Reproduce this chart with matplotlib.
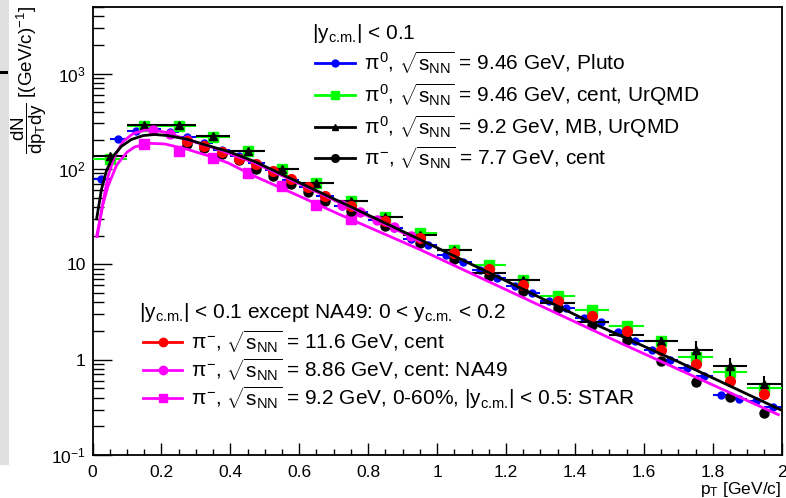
import matplotlib
matplotlib.use("Agg")
import matplotlib.pyplot as plt
from matplotlib.patches import Rectangle
from matplotlib.ticker import FixedLocator, FixedFormatter, MultipleLocator

plt.rcParams['font.family'] = ['Liberation Sans', 'DejaVu Sans']
plt.rcParams['mathtext.fontset'] = 'custom'
plt.rcParams['mathtext.rm'] = 'Liberation Sans'
plt.rcParams['mathtext.it'] = 'Liberation Sans'
plt.rcParams['mathtext.bf'] = 'Liberation Sans:bold'

# --- data ---
# pi0 9.46 GeV Pluto (blue)
pluto_x = [0.025, 0.075, 0.125, 0.175, 0.225, 0.275, 0.325, 0.375, 0.425, 0.475,
           0.525, 0.575, 0.625, 0.675, 0.725, 0.775, 0.825, 0.875, 0.925, 0.975,
           1.025, 1.075, 1.125, 1.175, 1.225, 1.275, 1.325, 1.375, 1.425, 1.475,
           1.525, 1.575, 1.625, 1.675, 1.725, 1.775, 1.825, 1.875, 1.925, 1.975]
pluto_y = [78, 204, 252, 262, 242, 216, 186, 160, 138, 116,
           97, 76, 64, 52, 41, 35, 29.5, 24, 18.5, 16,
           12.6, 10.7, 8.8, 7.2, 5.9, 5.0, 4.1, 3.5, 2.75, 2.5,
           1.95, 1.56, 1.27, 1.0, 0.82, 0.68, 0.43, 0.39, 0.37, 0.32]

# UrQMD bins (green: pi0 9.46 cent, black triangles: pi0 9.2 MB)
urqmd_x = [0.05, 0.15, 0.25, 0.35, 0.45, 0.55, 0.65, 0.75, 0.85, 0.95,
           1.05, 1.15, 1.25, 1.35, 1.45, 1.55, 1.65, 1.75, 1.85, 1.95]
urqmd_cent_y = [128, 285, 280, 218, 153, 100, 71.5, 46.6, 31.4, 21.3,
                14.3, 9.9, 6.9, 4.7, 3.35, 2.27, 1.58, 1.07, 0.74, 0.51]
urqmd_mb_y = [136, 292, 287, 224, 153, 100, 71.5, 46.6, 31.4, 20.5,
              14.3, 8.1, 6.8, 3.93, 2.49, 1.8, 1.56, 1.27, 0.85, 0.55]
urqmd_mb_err = [2, 4, 4, 3, 2, 1.5, 1, 0.8, 0.6, 0.5,
                0.4, 0.3, 0.3, 0.2, 0.15, 0.12, 0.15, 0.3, 0.2, 0.13]

# pi- data points (red: 11.6 GeV cent, black: 7.7 GeV cent)
pim_x = [0.275, 0.325, 0.375, 0.425, 0.475, 0.525, 0.575, 0.625, 0.675, 0.75,
         0.85, 0.95, 1.05, 1.15, 1.25, 1.35, 1.45, 1.55, 1.65, 1.75, 1.85, 1.95]
e866_y = [195, 173, 150, 128, 112, 95, 78, 65, 52, 40.6,
          28.5, 18.9, 13.2, 8.95, 6.1, 4.16, 2.85, 1.98, 1.27, 0.89, 0.60, 0.44]
star77_y = [185, 165, 142, 125, 100, 84, 69, 58, 46, 36,
            25, 16.8, 11.4, 7.6, 5.2, 3.49, 2.33, 1.62, 0.96, 0.58, 0.41, 0.275]

# 7.7 GeV curve (black line)
curve77_x = [0.012, 0.026, 0.04, 0.06, 0.084, 0.113, 0.147, 0.18, 0.219, 0.277,
             0.325, 0.393, 0.47, 0.6, 0.75, 0.95, 1.2, 1.44, 1.7, 1.995]
curve77_y = [30, 61, 95, 136, 173, 204, 224, 230, 224, 204,
             180, 153, 120, 72, 40, 18.2, 6.7, 2.52, 0.95, 0.30]

# NA49 8.86 GeV (magenta circles + upper magenta line)
na49_x = [0.175, 0.225, 0.275, 0.325, 0.375, 0.425, 0.475, 0.525, 0.575,
          0.625, 0.675, 0.725, 0.775, 0.825, 0.875, 0.925]
na49_y = [258, 232, 200, 175, 150, 128, 108, 90, 74,
          61, 50, 42, 35, 29, 24.5, 19.7]
na49_curve_x = [0.014, 0.03, 0.045, 0.064, 0.089, 0.118, 0.151, 0.18, 0.219,
                0.267, 0.35, 0.47, 0.6, 0.75, 0.95]
na49_curve_y = [19.7, 44, 84, 136, 195, 235, 255, 255, 239,
                207, 168, 116, 70, 39, 17.6]

# STAR 9.2 GeV 0-60% (magenta squares + lower magenta line)
star92_x = [0.15, 0.25, 0.35, 0.45, 0.55, 0.65, 0.75]
star92_y = [185, 155, 130, 90, 65.5, 42, 30]
star92_curve_x = [0.012, 0.03, 0.045, 0.07, 0.1, 0.122, 0.161, 0.21, 0.277, 0.335,
                  0.393, 0.47, 0.6, 0.718, 0.95, 1.531, 1.99]
star92_curve_y = [19.7, 42, 66, 110, 150, 170, 186, 183, 160, 138,
                  116, 84, 52, 33.2, 14.3, 1.5, 0.265]

BLUE = '#0000ff'
GREEN = '#00ff00'
RED = '#ff0000'
MAG = '#ff00ff'

fig = plt.figure(figsize=(7.86, 4.98), dpi=100)
# screenshot edge
fig.patches.append(Rectangle((0, 1 - 465 / 498), 9 / 786, 465 / 498, transform=fig.transFigure,
                             facecolor='#e0e0e0', edgecolor='none', zorder=0))
fig.patches.append(Rectangle((0, 1 - 74 / 498), 8 / 786, 3 / 498, transform=fig.transFigure,
                             facecolor='black', edgecolor='none', zorder=1))

ax = fig.add_axes([92.5 / 786, 43 / 498, 689.2 / 786, 448 / 498])
ax.set_yscale('log')
ax.set_xlim(0, 2)
ax.set_ylim(0.1, 5000)

# points
ax.errorbar(pluto_x, pluto_y, xerr=0.025, fmt='o', color=BLUE, ms=5, elinewidth=1.5,
            capsize=0, zorder=2)
ax.errorbar(urqmd_x, urqmd_cent_y, xerr=0.05, fmt='s', color=GREEN, ms=6.5, elinewidth=1.5,
            capsize=0, zorder=3)
ax.errorbar(urqmd_x, urqmd_mb_y, xerr=0.05, yerr=urqmd_mb_err, fmt='^', color='black', ms=6,
            elinewidth=1.5, capsize=0, zorder=4)
ax.plot(star92_x, star92_y, 's', color=MAG, ms=7, zorder=5)
ax.plot(na49_x, na49_y, 'o', color=MAG, ms=6.5, zorder=5)
ax.plot(pim_x, star77_y, 'o', color='black', ms=6.5, zorder=5)
ax.plot(pim_x, e866_y, 'o', color=RED, ms=7, zorder=6)

# curves
ax.plot(star92_curve_x, star92_curve_y, '-', color=MAG, lw=2, zorder=6)
ax.plot(na49_curve_x, na49_curve_y, '-', color=MAG, lw=2, zorder=6)
ax.plot(curve77_x, curve77_y, '-', color='black', lw=2, zorder=7)

# axes style
for s in ax.spines.values():
    s.set_linewidth(1.3)
ax.yaxis.set_major_locator(FixedLocator([0.1, 1, 10, 100, 1000]))
ax.yaxis.set_major_formatter(FixedFormatter([r'$10^{-1}$', '1', '10', r'$10^{2}$', r'$10^{3}$']))
ax.xaxis.set_minor_locator(MultipleLocator(0.05))
ax.set_xticks([0, 0.2, 0.4, 0.6, 0.8, 1, 1.2, 1.4, 1.6, 1.8, 2])
ax.set_xticklabels(['0', '0.2', '0.4', '0.6', '0.8', '1', '1.2', '1.4', '1.6', '1.8', '2'])
ax.tick_params(axis='y', which='major', direction='in', length=14, width=1.0, labelsize=12.5, pad=5)
ax.tick_params(axis='y', which='minor', direction='in', length=8, width=1.0)
ax.tick_params(axis='x', which='major', direction='in', length=8.5, width=1.0, labelsize=12.5, pad=7)
ax.tick_params(axis='x', which='minor', direction='in', length=4.2, width=1.0)

ax.text(1.0, -0.055, r'p$_{T}$ [GeV/c]', transform=ax.transAxes, ha='right', va='top', fontsize=12.5)
fig.text(29 / 786, 1 - 6 / 498, r'$\dfrac{dN}{dp_{T}dy}$ [(GeV/c)$^{-1}$]', rotation=90,
         ha='center', va='top', fontsize=13.5)


# legends drawn by hand (ROOT TLegend look)
def ax_xy(px, py):
    return (px - 92.5) / 689.2, (455 - py) / 448


def legend_row(px0, px1, py, color, marker, ms, label):
    x0, y = ax_xy(px0, py)
    x1, _ = ax_xy(px1, py)
    ax.plot([x0, x1], [y, y], '-', color=color, lw=2, transform=ax.transAxes, clip_on=False)
    ax.plot([(x0 + x1) / 2], [y], marker, color=color, ms=ms, transform=ax.transAxes, clip_on=False)
    tx, _ = ax_xy(px1 + 9, py)
    ax.text(tx, y, label, transform=ax.transAxes, ha='left', va='center', fontsize=15)


CM = r'$_{\text{c.m.}}$'
hx, hy = ax_xy(312, 33)
ax.text(hx, hy, '|y' + CM + '| < 0.1', transform=ax.transAxes, ha='left', va='center', fontsize=15)
legend_row(315, 355, 63, BLUE, 'o', 5, r'$\pi^{0}$, $\sqrt{s_{NN}}$ = 9.46 GeV, Pluto')
legend_row(315, 355, 95, GREEN, 's', 6, r'$\pi^{0}$, $\sqrt{s_{NN}}$ = 9.46 GeV, cent, UrQMD')
legend_row(315, 355, 127, 'black', '^', 4.5, r'$\pi^{0}$, $\sqrt{s_{NN}}$ = 9.2 GeV, MB, UrQMD')
legend_row(315, 355, 158, 'black', 'o', 5.5, r'$\pi^{-}$, $\sqrt{s_{NN}}$ = 7.7 GeV, cent')

hx, hy = ax_xy(139, 312)
ax.text(hx, hy, '|y' + CM + '| < 0.1 except NA49: 0 < y' + CM + ' < 0.2', transform=ax.transAxes,
        ha='left', va='center', fontsize=15)
legend_row(143, 182, 342, RED, 'o', 6, r'$\pi^{-}$, $\sqrt{s_{NN}}$ = 11.6 GeV, cent')
legend_row(143, 182, 370, MAG, 'o', 6, r'$\pi^{-}$, $\sqrt{s_{NN}}$ = 8.86 GeV, cent: NA49')
legend_row(143, 182, 398, MAG, 's', 6,
           r'$\pi^{-}$, $\sqrt{s_{NN}}$ = 9.2 GeV, 0-60%, |y' + CM + '| < 0.5: STAR')

fig.savefig('out.png', dpi=100)
